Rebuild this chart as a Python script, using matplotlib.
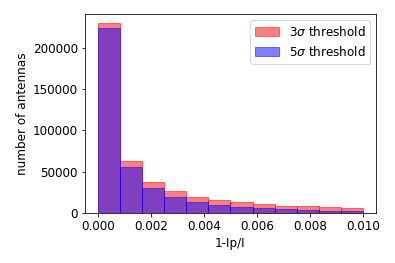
import numpy as np
import matplotlib
matplotlib.use("Agg")
import matplotlib.pyplot as plt

# histogram bin edges: 12 equal bins from 0 to 0.01
bin_edges = np.linspace(0.0, 0.01, 13)

# counts per bin
counts_3sigma = [229500, 63500, 37400, 26100, 19300, 15700,
                 12800, 10900, 8800, 8000, 6800, 6000]
counts_5sigma = [223400, 56300, 30200, 19300, 13600, 9700,
                 7600, 6000, 4800, 4000, 2900, 2800]

labels = [r"3$\sigma$ threshold", r"5$\sigma$ threshold"]

plt.rcParams["font.size"] = 12

fig, ax = plt.subplots(figsize=(395 / 72, 263 / 72), dpi=72)
centers = 0.5 * (bin_edges[:-1] + bin_edges[1:])
ax.hist(centers, bins=bin_edges, weights=counts_3sigma, color="red",
        edgecolor="red", alpha=0.5, linewidth=1, label=labels[0])
ax.hist(centers, bins=bin_edges, weights=counts_5sigma, color="blue",
        edgecolor="blue", alpha=0.5, linewidth=1, label=labels[1])

ax.set_xticks([0.0, 0.002, 0.004, 0.006, 0.008, 0.010])
ax.set_xlabel("1-Ip/I")
ax.set_ylabel("number of antennas")
ax.legend(loc="upper right")

fig.subplots_adjust(left=0.215, right=0.952, top=0.947, bottom=0.19)
fig.savefig("out.png", dpi=72)
